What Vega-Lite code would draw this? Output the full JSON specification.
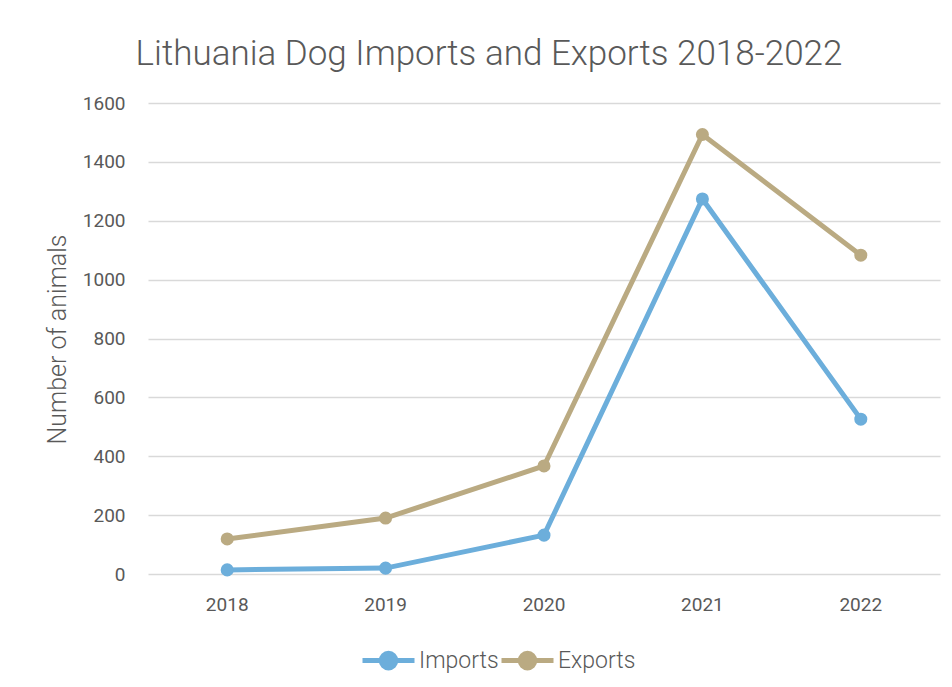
{
  "$schema": "https://vega.github.io/schema/vega-lite/v6.json",
  "autosize": "none",
  "width": 792,
  "height": 471,
  "padding": {"left": 148, "top": 103, "right": 12, "bottom": 113},
  "background": "white",
  "config": {"view": {"stroke": null}},
  "title": {
    "text": "Lithuania Dog Imports and Exports 2018-2022",
    "fontSize": 35,
    "font": "Roboto",
    "fontWeight": 300,
    "color": "#595959",
    "anchor": "middle",
    "dx": -55,
    "offset": 22
  },
  "data": {
    "values": [
      {"year": "2018", "series": "Imports", "value": 14},
      {"year": "2019", "series": "Imports", "value": 20},
      {"year": "2020", "series": "Imports", "value": 132},
      {"year": "2021", "series": "Imports", "value": 1274},
      {"year": "2022", "series": "Imports", "value": 526},
      {"year": "2018", "series": "Exports", "value": 119},
      {"year": "2019", "series": "Exports", "value": 190},
      {"year": "2020", "series": "Exports", "value": 367},
      {"year": "2021", "series": "Exports", "value": 1493},
      {"year": "2022", "series": "Exports", "value": 1083}
    ]
  },
  "encoding": {
    "x": {
      "field": "year",
      "type": "nominal",
      "scale": {"type": "band", "paddingInner": 0, "paddingOuter": 0},
      "axis": {
        "title": null,
        "labelAngle": 0,
        "labelFontSize": 19,
        "labelFont": "Roboto",
        "labelColor": "#595959",
        "labelPadding": 21,
        "ticks": false,
        "domain": false,
        "grid": false
      }
    },
    "y": {
      "field": "value",
      "type": "quantitative",
      "scale": {"domain": [0, 1600], "nice": false},
      "axis": {
        "title": "Number of animals",
        "titleFontSize": 25,
        "titleFont": "Roboto",
        "titleFontWeight": 300,
        "titleColor": "#595959",
        "titleX": -91,
        "titleY": 236,
        "titleAngle": -90,
        "titleAlign": "center",
        "titleBaseline": "middle",
        "values": [0, 200, 400, 600, 800, 1000, 1200, 1400, 1600],
        "format": "d",
        "labelFontSize": 19,
        "labelFont": "Roboto",
        "labelColor": "#595959",
        "labelPadding": 23,
        "ticks": false,
        "domain": false,
        "grid": true,
        "gridColor": "#d9d9d9",
        "gridWidth": 1.5
      }
    },
    "color": {
      "field": "series",
      "type": "nominal",
      "sort": ["Imports", "Exports"],
      "scale": {"domain": ["Imports", "Exports"], "range": ["#6CAEDB", "#BAAA82"]},
      "legend": {
        "title": null,
        "orient": "none",
        "direction": "horizontal",
        "legendX": 212,
        "legendY": 529,
        "labelFontSize": 23,
        "labelFont": "Roboto",
        "labelFontWeight": 300,
        "labelColor": "#595959",
        "labelOffset": 2,
        "columnPadding": -9,
        "symbolType": "M -1 0 L 1 0 M 0.28 0 A 0.28 0.28 0 1 1 -0.28 0 A 0.28 0.28 0 1 1 0.28 0",
        "symbolSize": 2704,
        "symbolStrokeWidth": 5
      }
    }
  },
  "layer": [
    {"mark": {"type": "line", "strokeWidth": 5, "strokeCap": "round"}},
    {"mark": {"type": "point", "filled": true, "opacity": 1, "size": 170}}
  ]
}
